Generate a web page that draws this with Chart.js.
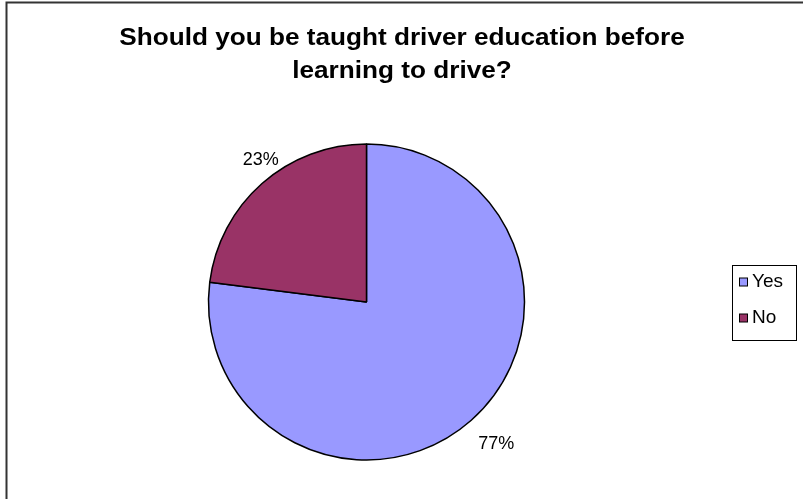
<!DOCTYPE html>
<html>
<head>
<meta charset="utf-8">
<script src="https://cdn.jsdelivr.net/npm/chart.js@4"></script>
<style>
  html, body { margin: 0; padding: 0; background: #fff; }
  #wrap { position: relative; width: 803px; height: 499px; }
</style>
</head>
<body>
<div id="wrap"><canvas id="pie" width="803" height="499"></canvas></div>
<script>
// data
const TITLE_LINES = ['Should you be taught driver education before', 'learning to drive?'];
const LABELS = ['Yes', 'No'];
const VALUES = [77, 23];
const COLORS = ['#9999FF', '#993366'];

const FONT = '"Liberation Sans", Arial, sans-serif';

function drawText(ctx, text, x, y, font, align, sx) {
  ctx.save();
  ctx.font = font;
  ctx.textBaseline = 'middle';
  ctx.textAlign = align || 'center';
  ctx.translate(x, y);
  ctx.scale(sx || 1, 1);
  ctx.fillStyle = '#000';
  ctx.fillText(text, 0, 0);
  ctx.restore();
}

// frame, title, % labels, legend box
const decor = {
  id: 'decor',
  afterDraw(chart) {
    const ctx = chart.ctx;
    ctx.save();
    ctx.strokeStyle = '#333';
    ctx.lineWidth = 2;
    ctx.beginPath();
    ctx.moveTo(6.5, 499); ctx.lineTo(6.5, 2.5); ctx.lineTo(803, 2.5);
    ctx.stroke();
    ctx.restore();

    drawText(ctx, TITLE_LINES[0], 402, 38, 'bold 24px ' + FONT, 'center', 1.09);
    drawText(ctx, TITLE_LINES[1], 402, 71, 'bold 24px ' + FONT, 'center', 1.09);

    // percentage labels outside each slice
    const meta = chart.getDatasetMeta(0);
    const total = VALUES.reduce((a, b) => a + b, 0);
    meta.data.forEach((arc, i) => {
      const mid = (arc.startAngle + arc.endAngle) / 2;
      const x = arc.x + Math.cos(mid) * (arc.outerRadius + 20) + 12;
      const y = arc.y + Math.sin(mid) * (arc.outerRadius + 31);
      drawText(ctx, Math.round(VALUES[i] / total * 100) + '%', x, y, '18px ' + FONT);
    });

    // legend
    ctx.save();
    ctx.strokeStyle = '#000';
    ctx.lineWidth = 1;
    ctx.strokeRect(732.5, 265.5, 64, 75);
    LABELS.forEach((lab, i) => {
      const yy = 282 + i * 36;
      ctx.fillStyle = COLORS[i];
      ctx.fillRect(739.5, yy - 4, 8, 8);
      ctx.strokeRect(739.5, yy - 4, 8, 8);
      drawText(ctx, lab, 752, yy, '19px ' + FONT, 'left');
    });
    ctx.restore();
  }
};

new Chart(document.getElementById('pie'), {
  type: 'pie',
  data: {
    labels: LABELS,
    datasets: [{
      data: VALUES,
      backgroundColor: COLORS,
      borderColor: '#000',
      borderWidth: 1.5,
      hoverOffset: 0
    }]
  },
  options: {
    responsive: false,
    animation: false,
    radius: 158,
    layout: { padding: { top: 144, bottom: 39, left: 208, right: 278 } },
    plugins: {
      legend: { display: false },
      title: { display: false },
      tooltip: { enabled: false }
    }
  },
  plugins: [decor]
});
</script>
</body>
</html>
